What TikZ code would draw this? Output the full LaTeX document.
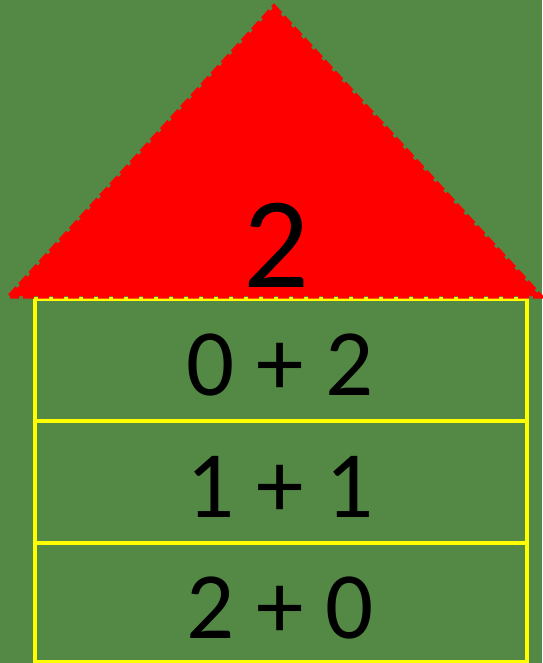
\documentclass[tikz,border=0pt]{standalone}
\usepackage{fontspec}
\setmainfont{Carlito}
\definecolor{bggreen}{RGB}{83,136,69}
\definecolor{tri}{RGB}{255,0,0}
\definecolor{boxy}{RGB}{255,255,0}
\begin{document}
\begin{tikzpicture}[x=1pt,y=-1pt,
  rowbox/.style={draw=boxy,line width=4pt},
  bignum/.style={font=\fontsize{130}{130}\selectfont,anchor=base,inner sep=0pt},
  rownum/.style={font=\fontsize{95}{95}\selectfont,anchor=base,inner sep=0pt}]
\fill[bggreen] (0,0) rectangle (542,663);
\useasboundingbox (0,0) rectangle (542,663);
\draw[rowbox] (35,299) rectangle (527,421);
\draw[rowbox] (35,421) rectangle (527,543);
\draw[rowbox] (35,543) rectangle (527,662);
\coordinate (tl) at (10,296);
\coordinate (tr) at (540,296);
\coordinate (ta) at (274,7);
\filldraw[fill=tri,draw=tri,line width=5pt,dash pattern=on 11pt off 4pt] (tl) -- (ta) -- (tr) -- cycle;
\node[bignum] (top) at (276,287) {2};
\node[rownum] (r1) at (280,395) {0 + 2};
\node[rownum] (r2) at (280,517) {1 + 1};
\node[rownum] (r3) at (280,638) {2 + 0};
\end{tikzpicture}
\end{document}
